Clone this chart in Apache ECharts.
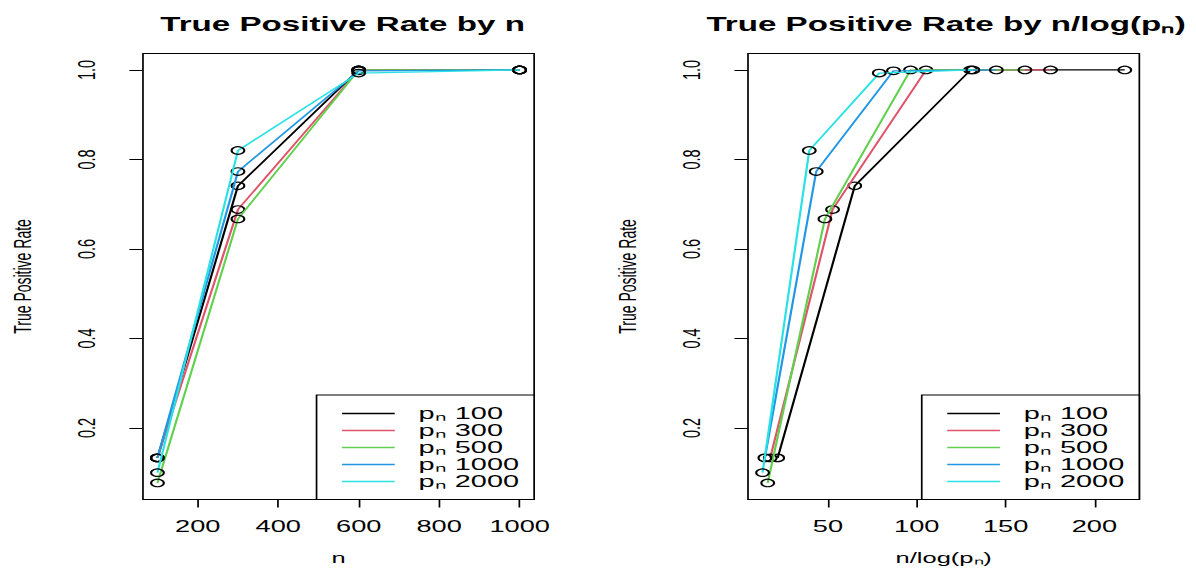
<!DOCTYPE html>
<html>
<head>
<meta charset="utf-8">
<script src="https://cdn.jsdelivr.net/npm/echarts@6/dist/echarts.min.js"></script>
<style>
  html, body { margin: 0; padding: 0; background: #fff; overflow: hidden; }
  /* the reference is a sideways-stretched R plot: draw narrow, then stretch */
  #chart { width: 703.5px; height: 571px; transform: scaleX(1.7); transform-origin: 0 0; }
</style>
</head>
<body>
<div id="chart"></div>
<script>
const seriesNames = ['pₙ 100', 'pₙ 300', 'pₙ 500', 'pₙ 1000', 'pₙ 2000']
const lineColors = ['#000000', '#DF536B', '#61D04F', '#2297E6', '#28E2E5']

const nValues = [100, 300, 600, 1000]

// n / log(p_n) for each p_n
const ratio100 = [21.7, 65.1, 130.3, 217.1]
const ratio300 = [17.5, 52.6, 105.2, 175.3]
const ratio500 = [16.1, 48.3, 96.5, 160.9]
const ratio1000 = [14.5, 43.4, 86.9, 144.8]
const ratio2000 = [13.2, 39.5, 78.9, 131.6]

// true positive rate, by n
const tpr100 = [0.133, 0.741, 1.0, 1.0]
const tpr300 = [0.133, 0.688, 1.0, 1.0]
const tpr500 = [0.077, 0.667, 1.0, 1.0]
const tpr1000 = [0.133, 0.773, 0.998, 1.0]
const tpr2000 = [0.1, 0.82, 0.993, 1.0]

const xTicksLeft = [200, 400, 600, 800, 1000]
const xTicksRight = [50, 100, 150, 200]
const yTicks = [0.2, 0.4, 0.6, 0.8, 1.0]

const ratios = [ratio100, ratio300, ratio500, ratio1000, ratio2000]
const tprs = [tpr100, tpr300, tpr500, tpr1000, tpr2000]

const font = 'Liberation Sans'

function xAxisFor(gridIndex, min, max, ticks, name) {
  return {
    type: 'value',
    gridIndex,
    min,
    max,
    name,
    nameLocation: 'middle',
    nameGap: 51,
    nameTextStyle: { fontSize: 15, color: '#000', fontFamily: font },
    axisLine: { show: false },
    axisTick: {
      show: true,
      length: 8,
      customValues: ticks,
      lineStyle: { color: '#000', width: 1 }
    },
    axisLabel: {
      customValues: ticks,
      margin: 19,
      fontSize: 16,
      color: '#000',
      fontFamily: font,
      formatter: (v) => String(v)
    },
    splitLine: { show: false }
  }
}

function yAxisFor(gridIndex) {
  return {
    type: 'value',
    gridIndex,
    min: 0.04,
    max: 1.037,
    name: 'True Positive Rate',
    nameLocation: 'middle',
    nameGap: 64,
    nameTextStyle: { fontSize: 14, color: '#000', fontFamily: font },
    axisLine: { show: false },
    axisTick: {
      show: true,
      length: 8,
      customValues: yTicks,
      lineStyle: { color: '#000', width: 1 }
    },
    axisLabel: {
      customValues: yTicks,
      rotate: 90,
      margin: 25.5,
      fontSize: 14.5,
      color: '#000',
      fontFamily: font,
      formatter: (v) => v.toFixed(1)
    },
    splitLine: { show: false }
  }
}

function legendFor(right) {
  return {
    data: seriesNames.map((name, i) => ({
      name,
      icon: 'rect',
      itemStyle: { color: lineColors[i], borderWidth: 0 }
    })),
    orient: 'vertical',
    right,
    bottom: 71.5,
    itemWidth: 31,
    itemHeight: 1.5,
    itemGap: 0,
    padding: [10, 9, 9.5, 15],
    borderColor: '#000',
    borderWidth: 1,
    borderRadius: 0,
    backgroundColor: '#fff',
    selectedMode: false,
    textStyle: {
      fontSize: 17,
      color: '#000',
      fontFamily: font,
      padding: [0, 0, 0, 9]
    }
  }
}

const series = []
seriesNames.forEach((name, i) => {
  const common = {
    name,
    type: 'line',
    symbol: 'circle',
    symbolSize: 7.5,
    lineStyle: { color: lineColors[i], width: 1.3 },
    itemStyle: { color: 'rgba(0,0,0,0)', borderColor: '#000', borderWidth: 1.2 },
    emphasis: { disabled: true },
    z: 2 + i
  }
  series.push({
    ...common,
    xAxisIndex: 0,
    yAxisIndex: 0,
    data: nValues.map((n, k) => [n, tprs[i][k]])
  })
  series.push({
    ...common,
    xAxisIndex: 1,
    yAxisIndex: 1,
    data: ratios[i].map((r, k) => [r, tprs[i][k]])
  })
})

const chart = echarts.init(document.getElementById('chart'), null, { renderer: 'svg' })
chart.setOption({
  animation: false,
  backgroundColor: '#fff',
  title: [
    {
      text: 'True Positive Rate by n',
      left: 196.5,
      top: 9,
      textAlign: 'center',
      textStyle: { fontSize: 19.5, fontWeight: 'bold', color: '#000', fontFamily: font }
    },
    {
      text: 'True Positive Rate by n/log(pₙ)',
      left: 551.5,
      top: 9,
      textAlign: 'center',
      textStyle: { fontSize: 19.5, fontWeight: 'bold', color: '#000', fontFamily: font }
    }
  ],
  grid: [
    { left: 84.1, right: 389.8, top: 53.4, bottom: 71.5, show: true, borderColor: '#000', borderWidth: 1, backgroundColor: 'transparent' },
    { left: 440, right: 33.8, top: 53.4, bottom: 71.5, show: true, borderColor: '#000', borderWidth: 1, backgroundColor: 'transparent' }
  ],
  xAxis: [
    xAxisFor(0, 64, 1036, xTicksLeft, 'n'),
    xAxisFor(1, 5, 225.3, xTicksRight, 'n/log(pₙ)')
  ],
  yAxis: [yAxisFor(0), yAxisFor(1)],
  legend: [legendFor(389.8), legendFor(33.8)],
  series
})
</script>
</body>
</html>
